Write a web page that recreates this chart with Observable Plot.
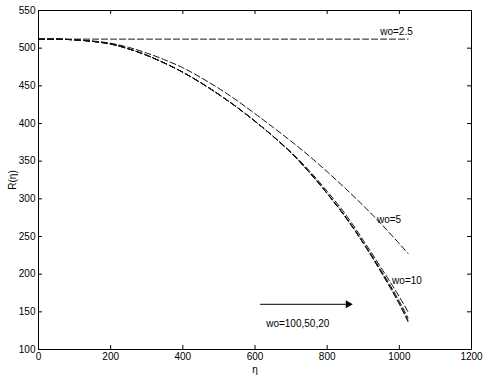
<!DOCTYPE html>
<html>
<head>
<meta charset="utf-8">
<script src="https://cdn.jsdelivr.net/npm/d3@7"></script>
<script src="https://cdn.jsdelivr.net/npm/@observablehq/plot@0.6"></script>
<style>
  html, body { margin: 0; padding: 0; background: white; }
</style>
</head>
<body>
<div id="chart"></div>
<script>
// ---- data ----
const eta = [0, 50, 100, 150, 200, 250, 300, 350, 400, 450, 500, 550, 600, 650, 700, 750, 800, 850, 900, 950, 1000, 1024];
const r_wo100 = [512, 512, 511, 509, 505.5, 499, 490.5, 480, 468, 454, 438.5, 421.5, 403, 383, 361, 335.5, 307, 276, 241, 202, 160, 137];
const r_wo50  = [512, 512, 511, 509, 505.5, 499, 490.5, 480, 468, 454, 438.5, 421.5, 403, 383, 361, 335.5, 307, 276, 241.5, 203, 161.5, 139];
const r_wo20  = [512, 512, 511, 509, 505.5, 499, 490.5, 480, 468, 454, 438.5, 421.5, 403, 383, 361, 335.5, 307.5, 277, 242, 204.5, 164, 142];
const r_wo10  = [512, 512, 511, 509, 505.5, 499, 490.5, 480, 468, 454, 438.5, 421.5, 403, 383, 362, 337.5, 310, 280, 245, 208, 170, 150];
const r_wo5   = [512, 512, 511, 509.5, 506.5, 501, 493.5, 484.5, 474, 461, 446.5, 430.5, 413, 395, 376.5, 357, 336, 314, 291, 266.5, 240.5, 227.5];
const r_wo2_5 = [512, 512, 512, 512, 512, 512, 512, 512, 512, 512, 512, 512, 512, 512, 512, 512, 512, 512, 512, 512, 512, 512];

const xTicks = [0, 200, 400, 600, 800, 1000, 1200];
const yTicks = [100, 150, 200, 250, 300, 350, 400, 450, 500, 550];

const labelText = ["wo=2.5", "wo=5", "wo=10", "wo=100,50,20"];
const labelEta  = [947, 938, 980, 631];
const labelR    = [521.5, 272, 191.5, 134];

const arrowEta1 = [614];
const arrowEta2 = [864];
const arrowR    = [160];

// ---- build tables ----
const seriesList = [
  ["wo=2.5", r_wo2_5], ["wo=5", r_wo5], ["wo=10", r_wo10],
  ["wo=20", r_wo20], ["wo=50", r_wo50], ["wo=100", r_wo100]
];
const lines = seriesList.flatMap(([name, vals]) => vals.map((v, i) => ({series: name, eta: eta[i], r: v})));
const labels = labelText.map((t, i) => ({t, x: labelEta[i], y: labelR[i]}));
const arrows = arrowR.map((r, i) => ({x1: arrowEta1[i], x2: arrowEta2[i], y: r}));

const W = 485, H = 378;
const mL = 38, mR = 14, mT = 10, mB = 29;
const innerW = W - mL - mR, innerH = H - mT - mB;
const tl = 4;

const chart = Plot.plot({
  width: W,
  height: H,
  marginLeft: mL,
  marginRight: mR,
  marginTop: mT,
  marginBottom: mB,
  style: {fontFamily: "'Liberation Sans', Arial, Helvetica, sans-serif", fontSize: "10px", background: "white", color: "black"},
  x: {domain: [0, 1200]},
  y: {domain: [100, 550]},
  marks: [
    Plot.axisX(xTicks, {tickSize: 0, tickPadding: 3, fontSize: 10, tickFormat: d => String(d), label: "η", labelAnchor: "center", labelOffset: 23, labelArrow: "none"}),
    Plot.axisY(yTicks, {tickSize: 0, tickPadding: 3, fontSize: 10, tickFormat: d => String(d), label: "R(η)", labelAnchor: "center", labelOffset: 30, labelArrow: "none"}),
    // inward ticks on all four sides
    Plot.tickX(xTicks, {x: d => d, insetTop: innerH - tl, stroke: "black"}),
    Plot.tickX(xTicks, {x: d => d, insetBottom: innerH - tl, stroke: "black"}),
    Plot.tickY(yTicks, {y: d => d, insetRight: innerW - tl, stroke: "black"}),
    Plot.tickY(yTicks, {y: d => d, insetLeft: innerW - tl, stroke: "black"}),
    Plot.line(lines, {x: "eta", y: "r", z: "series", curve: "monotone-x", stroke: "#111", strokeWidth: 1, strokeDasharray: "6,3"}),
    Plot.text(labels, {x: "x", y: "y", text: "t", textAnchor: "start", fontSize: 10, fill: "black"}),
    Plot.link(arrows, {x1: "x1", x2: d => d.x2 - 12, y1: "y", y2: "y", stroke: "black", strokeWidth: 1}),
    Plot.dot(arrows, {x: d => d.x2 - 6, y: "y", symbol: "triangle", rotate: 90, r: 3, fill: "black", stroke: "none"}),
    Plot.frame({stroke: "black"})
  ]
});
document.getElementById("chart").appendChild(chart);
</script>
</body>
</html>
